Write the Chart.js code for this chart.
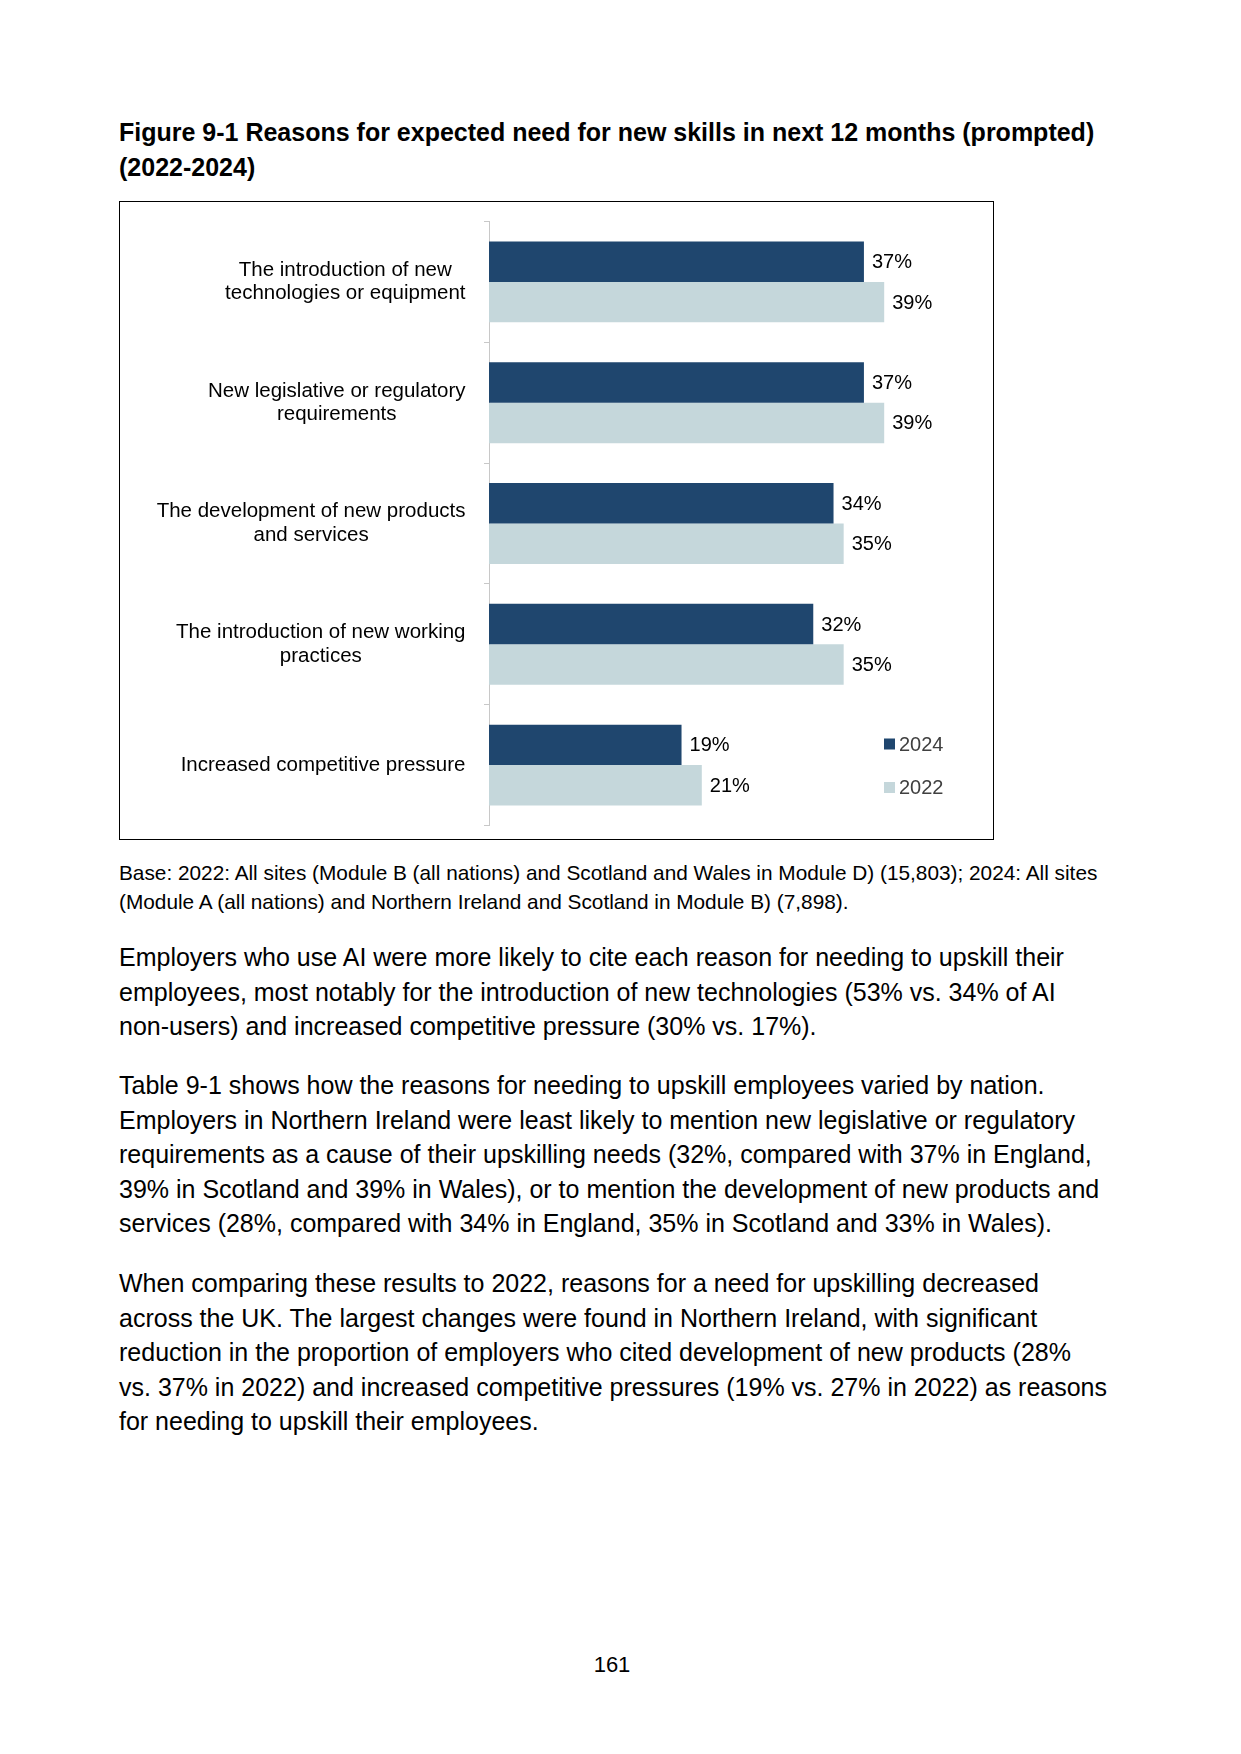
<!DOCTYPE html>
<html>
<head>
<meta charset="utf-8">
<script src="https://cdn.jsdelivr.net/npm/chart.js@4.4.1/dist/chart.umd.min.js"></script>
<style>
    body { margin: 0; background: #fff; font-family: "Liberation Sans", Arial, sans-serif; color: #000; }
    .page { position: relative; width: 1241px; height: 1754px; }
    .abs { position: absolute; white-space: nowrap; }
    .title { left: 119px; top: 115px; font-weight: bold; font-size: 25px; line-height: 35px; }
    .box { left: 119px; top: 201px; width: 875px; height: 639px; border: 1.5px solid #000; box-sizing: border-box; }
    .chartwrap { left: 119px; top: 201px; width: 875px; height: 639px; }
    .note { left: 119px; top: 858px; font-size: 20.8px; line-height: 29px; }
    .para { left: 119px; font-size: 25px; line-height: 34.6px; }
    .pagenum { left: 0; width: 1224px; text-align: center; top: 1652px; font-size: 22px; }
</style>
</head>
<body>
<div class="page">
    <div class="abs title">Figure 9-1 Reasons for expected need for new skills in next 12 months (prompted)<br>(2022-2024)</div>

    <div class="abs chartwrap"><canvas id="reasonsChart" width="875" height="639"></canvas></div>
    <div class="abs box"></div>

    <div class="abs note">Base: 2022: All sites (Module B (all nations) and Scotland and Wales in Module D) (15,803); 2024: All sites<br>(Module A (all nations) and Northern Ireland and Scotland in Module B) (7,898).</div>

    <div class="abs para" style="top: 940px;">Employers who use AI were more likely to cite each reason for needing to upskill their<br>employees, most notably for the introduction of new technologies (53% vs. 34% of AI<br>non-users) and increased competitive pressure (30% vs. 17%).</div>

    <div class="abs para" style="top: 1068px;">Table 9-1 shows how the reasons for needing to upskill employees varied by nation.<br>Employers in Northern Ireland were least likely to mention new legislative or regulatory<br>requirements as a cause of their upskilling needs (32%, compared with 37% in England,<br>39% in Scotland and 39% in Wales), or to mention the development of new products and<br>services (28%, compared with 34% in England, 35% in Scotland and 33% in Wales).</div>

    <div class="abs para" style="top: 1266px;">When comparing these results to 2022, reasons for a need for upskilling decreased<br>across the UK. The largest changes were found in Northern Ireland, with significant<br>reduction in the proportion of employers who cited development of new products (28%<br>vs. 37% in 2022) and increased competitive pressures (19% vs. 27% in 2022) as reasons<br>for needing to upskill their employees.</div>

    <div class="abs pagenum">161</div>
</div>

<script>
// Chart data
const categories = [
    ['The introduction of new', 'technologies or equipment'],
    ['New legislative or regulatory', 'requirements'],
    ['The development of new products', 'and services'],
    ['The introduction of new working', 'practices'],
    ['Increased competitive pressure']
];
const seriesNames = ['2024', '2022'];
const values2024 = [37, 37, 34, 32, 19];
const values2022 = [39, 39, 35, 35, 21];
const colors = ['#1F466E', '#C5D7DB'];

const FONT = '"Liberation Sans", Arial, sans-serif';

// value labels at the end of each bar
const barLabels = {
    id: 'barLabels',
    afterDatasetsDraw(chart) {
        const ctx = chart.ctx;
        ctx.save();
        ctx.font = `20px ${FONT}`;
        ctx.fillStyle = '#000';
        ctx.textBaseline = 'middle';
        ctx.textAlign = 'left';
        chart.data.datasets.forEach((ds, i) => {
            chart.getDatasetMeta(i).data.forEach((bar, j) => {
                ctx.fillText(ds.data[j] + '%', bar.x + 8, bar.y + 1);
            });
        });
        ctx.restore();
    }
};

// centred multi-line category labels
const categoryLabels = {
    id: 'categoryLabels',
    afterDraw(chart) {
        const ctx = chart.ctx;
        const y = chart.scales.y;
        ctx.save();
        ctx.font = `20.5px ${FONT}`;
        ctx.fillStyle = '#000';
        ctx.textBaseline = 'middle';
        ctx.textAlign = 'center';
        categories.forEach((lines, i) => {
            const w = Math.max(...lines.map(l => ctx.measureText(l).width));
            const cx = chart.chartArea.left - 23.5 - w / 2;
            const cy = y.getPixelForValue(i);
            lines.forEach((l, k) => {
                ctx.fillText(l, cx, cy + (k - (lines.length - 1) / 2) * 23.5);
            });
        });
        ctx.restore();
    }
};

// legend in the lower right corner of the plot
const cornerLegend = {
    id: 'cornerLegend',
    afterDraw(chart) {
        const ctx = chart.ctx;
        ctx.save();
        ctx.font = `20px ${FONT}`;
        ctx.textBaseline = 'middle';
        ctx.textAlign = 'left';
        const rows = [543, 586.5];
        chart.data.datasets.forEach((ds, i) => {
            ctx.fillStyle = ds.backgroundColor;
            ctx.fillRect(765, rows[i] - 5.5, 11, 11);
            ctx.fillStyle = '#404040';
            ctx.fillText(ds.label, 780, rows[i] + 1);
        });
        ctx.restore();
    }
};

new Chart(document.getElementById('reasonsChart'), {
    type: 'bar',
    data: {
        labels: categories,
        datasets: [
            { label: seriesNames[0], data: values2024, backgroundColor: colors[0] },
            { label: seriesNames[1], data: values2022, backgroundColor: colors[1] }
        ]
    },
    options: {
        indexAxis: 'y',
        responsive: false,
        animation: false,
        devicePixelRatio: 1,
        layout: { padding: { top: 20.5, bottom: 14.5, left: 0, right: 49 } },
        datasets: { bar: { categoryPercentage: 0.67, barPercentage: 1.0, borderWidth: 0 } },
        scales: {
            x: { display: false, min: 0, max: 45 },
            y: {
                afterFit(scale) { scale.width = 370; },
                ticks: { display: false },
                grid: { drawOnChartArea: false, drawTicks: true, tickLength: 5, color: '#C8C8C8', offset: true },
                border: { display: true, color: '#C8C8C8', width: 1 }
            }
        },
        plugins: {
            legend: { display: false },
            tooltip: { enabled: false }
        }
    },
    plugins: [barLabels, categoryLabels, cornerLegend]
});
</script>
</body>
</html>
